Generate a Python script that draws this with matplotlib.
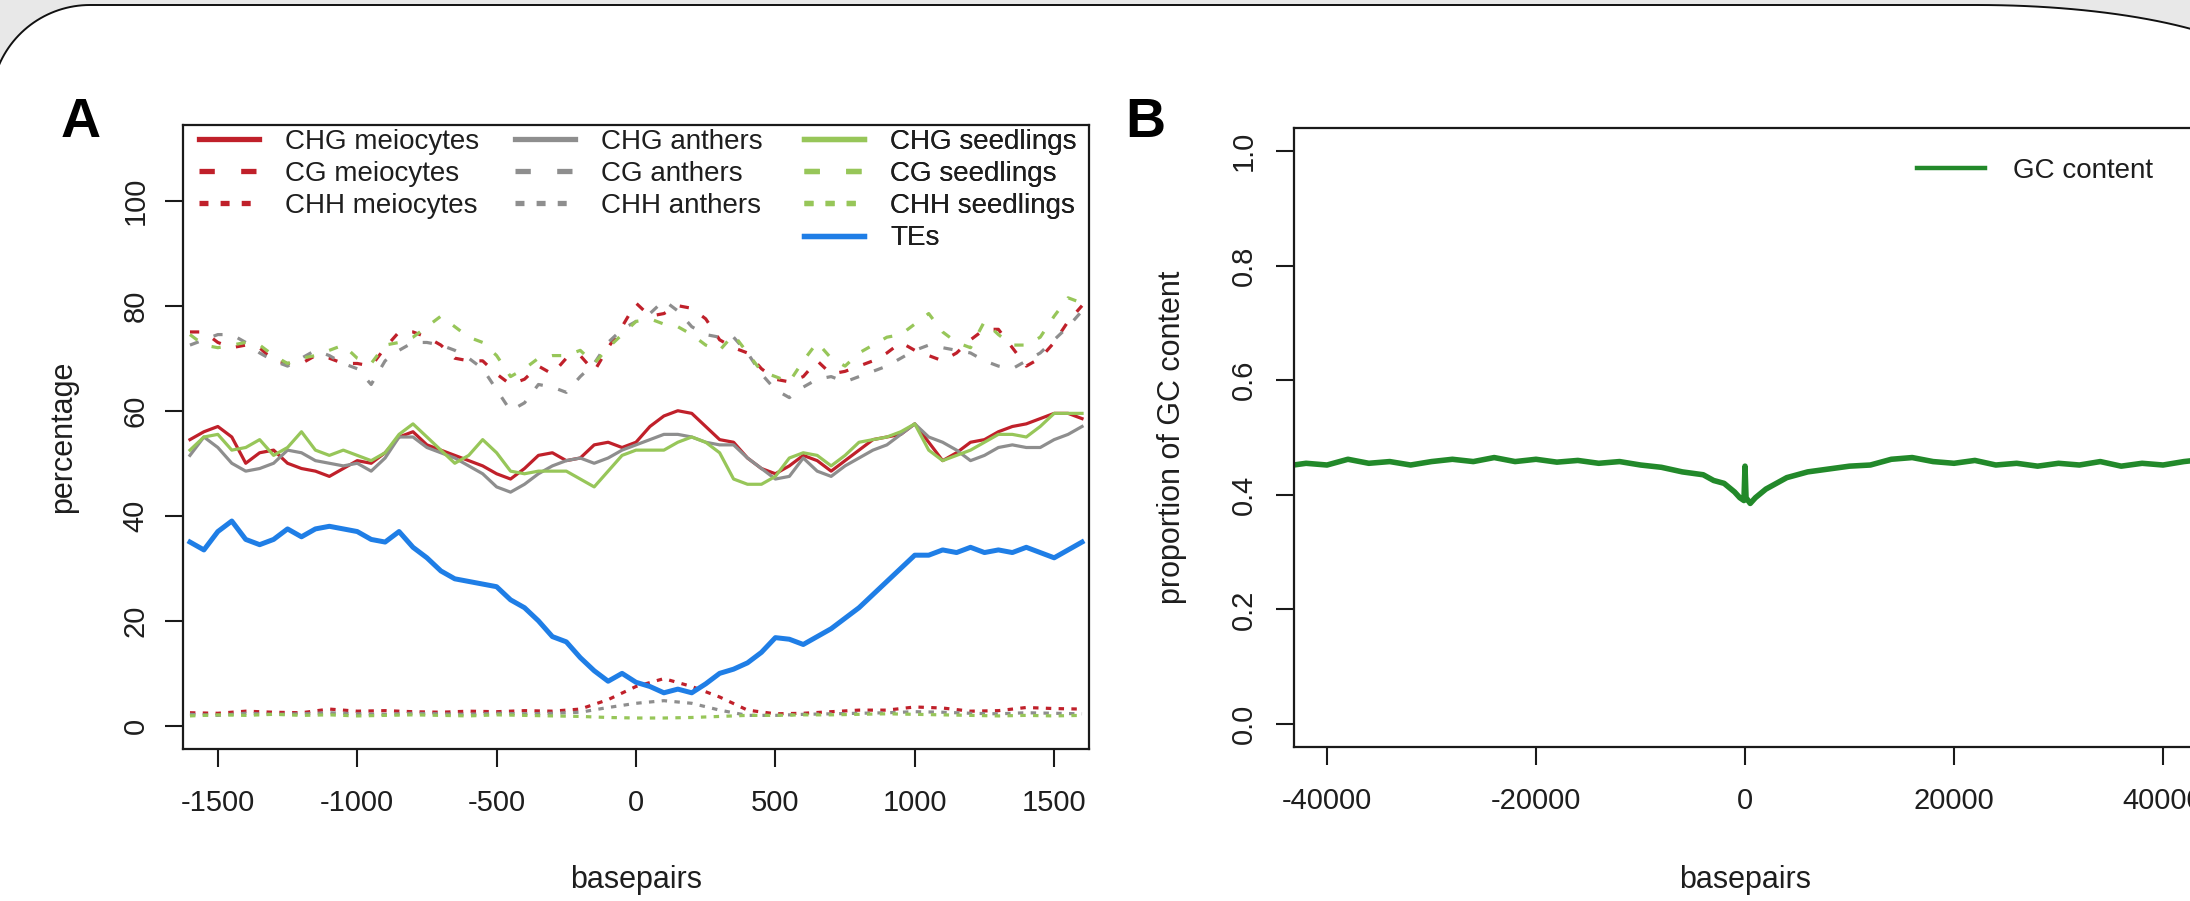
import numpy as np
import matplotlib
matplotlib.use('Agg')
import matplotlib.pyplot as plt
from matplotlib.lines import Line2D
from matplotlib.patches import Polygon

plt.rcParams['font.family'] = ['Liberation Sans', 'DejaVu Sans']

# ---------------- data (panel A) ----------------
bp = list(range(-1600, 1601, 50))

chg_meiocytes = [54.5, 56, 57, 55, 50, 52, 52.5, 50, 49, 48.5, 47.5, 49, 50.5, 50, 52, 55, 56,
                 53.5, 52.5, 51.5, 50.5, 49.5, 48, 47, 49, 51.5, 52, 50.5, 51, 53.5, 54, 53, 54,
                 57, 59, 60, 59.5, 57, 54.5, 54, 51, 49, 48, 49.5, 51.5, 50.5, 48.5, 50.5, 52.5,
                 54.5, 55, 55.5, 57.5, 54, 50.5, 52, 54, 54.5, 56, 57, 57.5, 58.5, 59.5, 59.5, 58.5]
chg_anthers = [51.5, 55, 53, 50, 48.5, 49, 50, 52.5, 52, 50.5, 50, 49.5, 50, 48.5, 51, 55, 55,
               53, 52, 51, 49.5, 48, 45.5, 44.5, 46, 48, 49.5, 50.5, 51, 50, 51, 52.5, 53.5,
               54.5, 55.5, 55.5, 55, 54, 53.5, 53.5, 51, 49, 47, 47.5, 51, 48.5, 47.5, 49.5, 51,
               52.5, 53.5, 55.5, 57.5, 55, 54, 52.5, 50.5, 51.5, 53, 53.5, 53, 53, 54.5, 55.5, 57]
chg_seedlings = [52.5, 55, 55.5, 52.5, 53, 54.5, 51.5, 53, 56, 52.5, 51.5, 52.5, 51.5, 50.5, 52,
                 55.5, 57.5, 55, 52.5, 50, 51.5, 54.5, 52, 48.5, 48, 48.5, 48.5, 48.5, 47, 45.5,
                 48.5, 51.5, 52.5, 52.5, 52.5, 54, 55, 54, 52, 47, 46, 46, 47.5, 51, 52, 51.5,
                 49.5, 51.5, 54, 54.5, 55, 56, 57.5, 52.5, 50.5, 51.5, 52.5, 54, 55.5, 55.5, 55,
                 57, 59.5, 59.5, 59.5]

cg_meiocytes = [75, 75, 73, 72, 72.5, 72, 69.5, 69, 69, 70.5, 70, 69, 69, 68.5, 72, 75, 75, 74,
                72.5, 70, 69.5, 69.5, 67, 65, 66, 68.5, 67, 70, 70.5, 67.5, 72, 76, 80.5, 78,
                78.5, 80, 79.5, 77.5, 73.5, 72, 71, 68, 66, 65.5, 66.5, 69.5, 67, 67.5, 68.5,
                69.5, 71, 73, 71.5, 70.5, 69.5, 71, 73.5, 75.5, 75.5, 72, 68.5, 70, 73, 77, 80]
cg_anthers = [72.5, 73.5, 74.5, 74.5, 73, 71, 69.5, 68.5, 70, 71.5, 70.5, 69, 68, 65, 69.5,
              71.5, 73, 73, 72.5, 71.5, 70, 68, 64, 60, 61.5, 65, 64.5, 63.5, 66.5, 69, 73,
              75.5, 77, 78.5, 81, 79, 76, 74.5, 74, 74, 71, 67, 64, 62.5, 64.5, 66, 66.5, 65.5,
              66.5, 67.5, 68.5, 70, 71.5, 72.5, 72, 71.5, 71, 69.5, 68.5, 68, 69.5, 71, 73.5,
              76, 79]
cg_seedlings = [74.5, 72.5, 72, 72.5, 73, 72.5, 70.5, 69, 70, 70.5, 71.5, 72.5, 70, 69, 72.5,
                73, 74, 76, 78, 76, 74, 73, 70.5, 66.5, 68, 70, 70.5, 70.5, 71.5, 69, 72, 74.5,
                77, 77.5, 76.5, 76, 74.5, 72.5, 71.5, 74.5, 71, 67.5, 66.5, 65.5, 69.5, 73, 70,
                68.5, 71, 72.5, 74, 74.5, 76.5, 78.5, 75, 73, 72, 77, 74.5, 72.5, 72.5, 74, 78,
                81.5, 80.5]

tes = [35, 33.5, 37, 39, 35.5, 34.5, 35.5, 37.5, 36, 37.5, 38, 37.5, 37, 35.5, 35, 37, 34, 32,
       29.5, 28, 27.5, 27, 26.5, 24, 22.5, 20, 17, 16, 13, 10.5, 8.5, 10, 8.3, 7.5, 6.3, 7, 6.3,
       8, 10, 10.8, 12, 14, 16.8, 16.5, 15.5, 17, 18.5, 20.5, 22.5, 25, 27.5, 30, 32.5, 32.5,
       33.5, 33, 34, 33, 33.5, 33, 34, 33, 32, 33.5, 35]

bp_chh = list(range(-1600, 1601, 100))
chh_meiocytes = [2.5, 2.4, 2.8, 2.6, 2.5, 3.2, 2.8, 2.9, 2.7, 2.6, 2.8, 2.7, 2.9, 2.8, 3.2, 5.0,
                 7.5, 9.0, 7.5, 5.5, 3.0, 2.3, 2.4, 2.7, 3.0, 3.0, 3.6, 3.4, 2.8, 2.9, 3.5, 3.3, 3.2]
chh_anthers = [2.2, 2.0, 2.4, 2.2, 2.3, 2.5, 2.3, 2.2, 2.4, 2.3, 2.2, 2.4, 2.3, 2.4, 2.6, 3.5,
               4.3, 4.8, 4.3, 3.0, 2.0, 2.0, 2.2, 2.3, 2.4, 2.5, 2.7, 2.6, 2.4, 2.3, 2.5, 2.4, 2.3]
chh_seedlings = [1.9, 2.1, 2.0, 2.2, 2.0, 2.1, 1.9, 2.0, 2.1, 2.0, 1.9, 2.1, 2.0, 1.9, 1.8, 1.6,
                 1.5, 1.5, 1.6, 1.8, 2.0, 2.0, 2.1, 2.1, 2.2, 2.3, 2.2, 2.1, 2.0, 1.9, 2.0, 1.9, 2.0]

xticks_a = [-1500, -1000, -500, 0, 500, 1000, 1500]
yticks_a = [0, 20, 40, 60, 80, 100]

# ---------------- data (panel B) ----------------
gc_bp = [-44000, -42000, -40000, -38000, -36000, -34000, -32000, -30000, -28000, -26000, -24000,
         -22000, -20000, -18000, -16000, -14000, -12000, -10000, -8000, -6000, -4000, -3000,
         -2000, -1000, -500, -100, 0, 100, 500, 1000, 2000, 3000, 4000, 6000, 8000, 10000, 12000,
         14000, 16000, 18000, 20000, 22000, 24000, 26000, 28000, 30000, 32000, 34000, 36000,
         38000, 40000, 42000, 44000]
gc_content = [0.450, 0.455, 0.452, 0.462, 0.455, 0.458, 0.452, 0.458, 0.462, 0.458, 0.465,
              0.458, 0.462, 0.457, 0.460, 0.455, 0.458, 0.452, 0.448, 0.440, 0.435, 0.425, 0.420,
              0.405, 0.395, 0.390, 0.450, 0.395, 0.385, 0.395, 0.410, 0.420, 0.430, 0.440, 0.445,
              0.450, 0.452, 0.462, 0.465, 0.458, 0.455, 0.460, 0.452, 0.455, 0.450, 0.455, 0.452,
              0.458, 0.450, 0.455, 0.452, 0.458, 0.462]
xticks_b = [-40000, -20000, 0, 20000, 40000]
yticks_b = [0.0, 0.2, 0.4, 0.6, 0.8, 1.0]
ytick_labels_b = ['0.0', '0.2', '0.4', '0.6', '0.8', '1.0']

# ---------------- styling ----------------
RED = '#c0202a'
GRAY = '#8e8e8e'
GREEN = '#97c659'
BLUE = '#1f7ee6'
GCGREEN = '#22892a'
TXT = '#1e1e1e'

W, H = 2190, 901
fig = plt.figure(figsize=(W / 100, H / 100), dpi=100, facecolor='#e8e8e8')


def fx(px):
    return px / W


def fy(py):
    return 1 - py / H


# decorative rounded frame
t = np.linspace(0, np.pi / 2, 40)
left_c = [(90 - 99 * np.sin(a), 104 - 99 * np.cos(a)) for a in t[::-1]]
right_c = [(1977 + 300 * np.sin(a), 85 - 80 * np.cos(a)) for a in t]
pts = [(-20, 930), (-9, 104)] + left_c + right_c + [(2300, 930)]
frame = Polygon([(fx(x), fy(y)) for x, y in pts], closed=True, transform=fig.transFigure,
                facecolor='white', edgecolor='#111111', linewidth=1.4, zorder=-10)
fig.patches.append(frame)

LW = 2.3
DASH = (0, (2.9, 5.0))
DOT = (0, (1.7, 2.3))

# ---------------- panel A ----------------
axA = fig.add_axes([fx(183), fy(749), fx(1089) - fx(183), (749 - 125) / H])
axA.set_xlim(-1625, 1625)
axA.set_ylim(-4.4, 114.4)

axA.plot(bp, chg_meiocytes, color=RED, lw=LW)
axA.plot(bp, chg_anthers, color=GRAY, lw=LW)
axA.plot(bp, chg_seedlings, color=GREEN, lw=LW)
axA.plot(bp, cg_meiocytes, color=RED, lw=LW, linestyle=DASH)
axA.plot(bp, cg_anthers, color=GRAY, lw=LW, linestyle=DASH)
axA.plot(bp, cg_seedlings, color=GREEN, lw=LW, linestyle=DASH)
axA.plot(bp_chh, chh_meiocytes, color=RED, lw=LW, linestyle=DOT)
axA.plot(bp_chh, chh_anthers, color=GRAY, lw=LW, linestyle=DOT)
axA.plot(bp_chh, chh_seedlings, color=GREEN, lw=LW, linestyle=DOT)
axA.plot(bp, tes, color=BLUE, lw=3.6)

axA.set_xticks(xticks_a)
axA.set_xticklabels([str(v) for v in xticks_a])
axA.set_yticks(yticks_a)
axA.set_yticklabels([str(v) for v in yticks_a], rotation=90, va='center')

# ---------------- panel B ----------------
axB = fig.add_axes([fx(1294), fy(747), fx(2196) - fx(1294), (747 - 128) / H])
axB.set_xlim(-43158, 43158)
axB.set_ylim(-0.04, 1.04)
axB.plot(gc_bp, gc_content, color=GCGREEN, lw=4.0)
axB.set_xticks(xticks_b)
axB.set_xticklabels([str(v) for v in xticks_b])
axB.set_yticks(yticks_b)
axB.set_yticklabels(ytick_labels_b, rotation=90, va='center')

for ax, ypad in ((axA, 11), (axB, 13)):
    for s in ax.spines.values():
        s.set_linewidth(1.6)
        s.set_color('#1a1a1a')
    ax.tick_params(axis='both', length=13, width=1.5, color='#1a1a1a',
                   labelsize=21, labelcolor=TXT)
    ax.tick_params(axis='x', pad=15.5)
    ax.tick_params(axis='y', pad=ypad)
    ax.set_facecolor('none')

# ---------------- legends ----------------
LEG_FS = 20
HL = 60 / 27.8
HTP = 26 / 27.8


def h(color, ls='-', lw=3.8):
    return Line2D([], [], color=color, lw=lw, linestyle=ls)


cols = [
    (199, [h(RED), h(RED, DASH), h(RED, DOT)],
     ['CHG meiocytes', 'CG meiocytes', 'CHH meiocytes']),
    (515, [h(GRAY), h(GRAY, DASH), h(GRAY, DOT)],
     ['CHG anthers', 'CG anthers', 'CHH anthers']),
    (804, [h(GREEN), h(GREEN, DASH), h(GREEN, DOT), h(BLUE)],
     ['CHG seedlings', 'CG seedlings', 'CHH seedlings', 'TEs']),
]
for x0, hs, ls in cols:
    leg = axA.legend(hs, ls, loc='upper left', bbox_to_anchor=(fx(x0), fy(129)),
                     bbox_transform=fig.transFigure, frameon=False, borderpad=0,
                     borderaxespad=0, fontsize=LEG_FS, handlelength=HL, handletextpad=HTP,
                     labelspacing=0.22, labelcolor=TXT)
    axA.add_artist(leg)

legB = axB.legend([h(GCGREEN, lw=3.2)], ['GC content'], loc='center left',
                  bbox_to_anchor=(fx(1917), fy(171)), bbox_transform=fig.transFigure,
                  frameon=False, borderpad=0, borderaxespad=0, fontsize=LEG_FS,
                  handlelength=68 / 27.8, handletextpad=28 / 27.8, labelcolor=TXT)

# ---------------- axis labels & panel letters ----------------
fig.text(fx(636), fy(880), 'basepairs', ha='center', va='center', fontsize=22, color=TXT)
fig.text(fx(1745), fy(880), 'basepairs', ha='center', va='center', fontsize=22, color=TXT)
fig.text(fx(63), fy(437), 'percentage', ha='center', va='center', rotation=90,
         fontsize=22, color=TXT)
fig.text(fx(1172), fy(437), 'proportion of GC content', ha='center', va='center',
         rotation=90, fontsize=22, color=TXT)
fig.text(fx(81), fy(137), 'A', ha='center', va='baseline', fontsize=40,
         fontweight='bold', color='black')
fig.text(fx(1145), fy(137), 'B', ha='center', va='baseline', fontsize=40,
         fontweight='bold', color='black')

fig.savefig('out.png', dpi=100, facecolor=fig.get_facecolor())
